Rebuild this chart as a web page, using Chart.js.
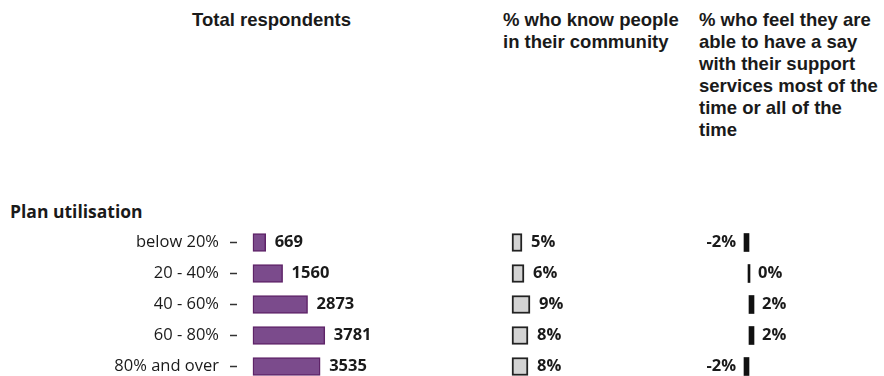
<!DOCTYPE html>
<html lang="en">
  <head>
    <meta charset="UTF-8" />
    <title>Plan utilisation</title>
    <script src="https://cdn.jsdelivr.net/npm/chart.js@4"></script>
    <style>
      html, body { margin: 0; padding: 0; background: #fff; }
      body { width: 884px; height: 376px; overflow: hidden; position: relative; }
      .head {
        position: absolute; top: 9px;
        font: bold 18.5px "Liberation Sans", Arial, sans-serif;
        line-height: 22px; color: #1a1a1a; white-space: nowrap;
      }
      .group {
        position: absolute; left: 10px; top: 199px;
        font: bold 17.5px "Open Sans", sans-serif; line-height: 24px; color: #1a1a1a;
      }
      canvas { position: absolute; top: 227px; }
    </style>
  </head>
  <body>
    <div class="head" style="left:192px">Total respondents</div>
    <div class="head" style="left:503px">% who know people<br>in their community</div>
    <div class="head" style="left:699px">% who feel they are<br>able to have a say<br>with their support<br>services most of the<br>time or all of the<br>time</div>
    <div class="group">Plan utilisation</div>

    <canvas id="totalChart" width="500" height="155" style="left:0px"></canvas>
    <canvas id="knowChart" width="140" height="155" style="left:500px"></canvas>
    <canvas id="sayChart" width="140" height="155" style="left:679px"></canvas>

    <script>
      const categories = ["below 20%", "20 - 40%", "40 - 60%", "60 - 80%", "80% and over"];
      const totalRespondents = [669, 1560, 2873, 3781, 3535];
      const knowPeople = [5, 6, 9, 8, 8];
      const haveASay = [-2, 0, 2, 2, -2];

      // writes the value next to the end of each bar
      const valueLabels = {
        id: "valueLabels",
        afterDatasetsDraw(chart, args, opts) {
          const ctx = chart.ctx;
          const values = chart.data.datasets[0].data;
          ctx.save();
          ctx.font = 'bold 16.5px "Open Sans", sans-serif';
          ctx.fillStyle = "#1a1a1a";
          ctx.textBaseline = "middle";
          chart.getDatasetMeta(0).data.forEach((bar, i) => {
            const v = values[i];
            const text = opts.format(v);
            if (v < 0) {
              ctx.textAlign = "right";
              ctx.fillText(text, Math.min(bar.x, bar.base) - opts.gap, bar.y);
            } else {
              ctx.textAlign = "left";
              ctx.fillText(text, Math.max(bar.x, bar.base) + opts.gap, bar.y);
            }
          });
          ctx.restore();
        }
      };

      function makeChart(id, values, colors, xRange, format, showLabels) {
        return new Chart(document.getElementById(id), {
          type: "bar",
          data: {
            labels: categories,
            datasets: [{
              data: values,
              backgroundColor: colors.fill,
              borderColor: colors.border,
              borderWidth: colors.borderWidth,
              borderSkipped: false,
              barThickness: 18,
              minBarLength: 2
            }]
          },
          options: {
            indexAxis: "y",
            responsive: false,
            animation: false,
            layout: { padding: 0 },
            scales: {
              x: { display: false, min: xRange[0], max: xRange[1] },
              y: {
                display: showLabels,
                afterFit: (scale) => {
                  if (!showLabels) return;
                  // fixed label column, and no extra room above/below for the labels
                  scale.width = 237;
                  scale.paddingTop = 0;
                  scale.paddingBottom = 0;
                },
                border: { display: false },
                grid: { offset: false, drawOnChartArea: false, drawTicks: true, tickLength: 7, tickWidth: 1.5, tickColor: "#333" },
                ticks: { padding: 11, color: "#1a1a1a", font: { family: "Open Sans", size: 16.5 } }
              }
            },
            plugins: {
              legend: { display: false },
              tooltip: { enabled: false },
              valueLabels: { format: format, gap: colors.gap }
            }
          },
          plugins: [valueLabels]
        });
      }

      makeChart("totalChart", totalRespondents,
        { fill: "#7b4b8c", border: "#5e2368", borderWidth: 1.5, gap: 9 },
        [-840, 13000], (v) => String(v), true);

      makeChart("knowChart", knowPeople,
        { fill: "#d4d4d4", border: "#222", borderWidth: 2, gap: 9 },
        [-6, 64], (v) => v + "%", false);

      makeChart("sayChart", haveASay,
        { fill: "#111", border: "#111", borderWidth: 0, gap: 8 },
        [-28, 28], (v) => v + "%", false);
    </script>
  </body>
</html>
